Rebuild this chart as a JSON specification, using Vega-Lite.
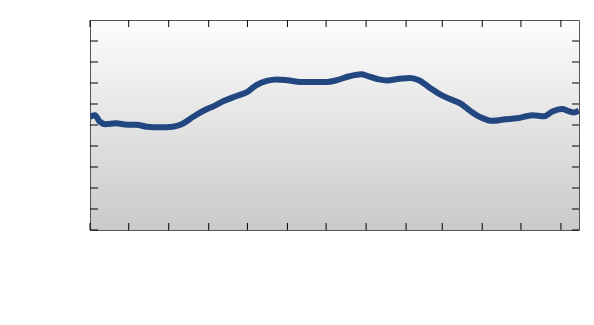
{
  "$schema": "https://vega.github.io/schema/vega-lite/v6.json",
  "width": 489,
  "height": 210,
  "autosize": "none",
  "padding": {"left": 90, "top": 20, "right": 15, "bottom": 95},
  "background": "white",
  "view": {
    "stroke": "#555555",
    "strokeWidth": 1,
    "fill": {"gradient": "linear", "x1": 0, "y1": 0, "x2": 0, "y2": 1,
      "stops": [{"offset": 0, "color": "#fdfdfd"}, {"offset": 1, "color": "#c9c9c9"}]}
  },
  "config": {
    "font": "DejaVu Sans",
    "axis": {"labelFont": "DejaVu Sans", "labelFontSize": 13, "labelColor": "#000000", "ticks": false, "domain": false,
      "gridColor": "#999999", "gridDash": [1, 3], "gridOpacity": 0.8, "labelOverlap": false}
  },
  "datasets": {
    "series": [
      {"date": "2024-06-01", "value": 53.9},
      {"date": "2024-06-05", "value": 54.7},
      {"date": "2024-06-08", "value": 52.0},
      {"date": "2024-06-13", "value": 50.4},
      {"date": "2024-06-21", "value": 50.8},
      {"date": "2024-06-30", "value": 50.1},
      {"date": "2024-07-07", "value": 50.1},
      {"date": "2024-07-15", "value": 49.2},
      {"date": "2024-07-25", "value": 48.9},
      {"date": "2024-08-04", "value": 49.2},
      {"date": "2024-08-11", "value": 50.4},
      {"date": "2024-08-20", "value": 53.9},
      {"date": "2024-08-28", "value": 56.8},
      {"date": "2024-09-05", "value": 59.0},
      {"date": "2024-09-13", "value": 61.5},
      {"date": "2024-09-23", "value": 63.9},
      {"date": "2024-10-01", "value": 65.8},
      {"date": "2024-10-08", "value": 69.0},
      {"date": "2024-10-16", "value": 71.0},
      {"date": "2024-10-24", "value": 71.7},
      {"date": "2024-11-01", "value": 71.3},
      {"date": "2024-11-11", "value": 70.5},
      {"date": "2024-12-02", "value": 70.5},
      {"date": "2024-12-09", "value": 71.3},
      {"date": "2024-12-19", "value": 73.2},
      {"date": "2024-12-28", "value": 74.2},
      {"date": "2025-01-03", "value": 73.2},
      {"date": "2025-01-11", "value": 71.7},
      {"date": "2025-01-17", "value": 71.2},
      {"date": "2025-01-27", "value": 72.0},
      {"date": "2025-02-04", "value": 72.4},
      {"date": "2025-02-11", "value": 71.3},
      {"date": "2025-02-19", "value": 67.9},
      {"date": "2025-02-27", "value": 64.7},
      {"date": "2025-03-06", "value": 62.6},
      {"date": "2025-03-15", "value": 60.3},
      {"date": "2025-03-23", "value": 56.6},
      {"date": "2025-03-31", "value": 53.6},
      {"date": "2025-04-09", "value": 52.0},
      {"date": "2025-04-19", "value": 52.7},
      {"date": "2025-04-28", "value": 53.2},
      {"date": "2025-05-10", "value": 54.7},
      {"date": "2025-05-19", "value": 54.2},
      {"date": "2025-05-25", "value": 56.3},
      {"date": "2025-06-02", "value": 57.6},
      {"date": "2025-06-07", "value": 56.6},
      {"date": "2025-06-11", "value": 56.0},
      {"date": "2025-06-15", "value": 56.8}
    ],
    "months": [
      {"month": "2024-06-01"}, {"month": "2024-07-01"}, {"month": "2024-08-01"}, {"month": "2024-09-01"},
      {"month": "2024-10-01"}, {"month": "2024-11-01"}, {"month": "2024-12-01"}, {"month": "2025-01-01"},
      {"month": "2025-02-01"}, {"month": "2025-03-01"}, {"month": "2025-04-01"}, {"month": "2025-05-01"},
      {"month": "2025-06-01"}
    ],
    "levels": [
      {"level": 0}, {"level": 10}, {"level": 20}, {"level": 30}, {"level": 40},
      {"level": 50}, {"level": 60}, {"level": 70}, {"level": 80}, {"level": 90}
    ]
  },
  "layer": [
    {
      "data": {"name": "series"},
      "mark": {"type": "line", "color": "#22467f", "strokeWidth": 6, "interpolate": "monotone", "clip": true},
      "encoding": {
        "x": {"field": "date", "type": "temporal", "title": null,
          "scale": {"type": "utc", "domain": ["2024-06-01", "2025-06-15"]},
          "axis": {"orient": "bottom", "format": "%b %Y", "labelAngle": -45, "labelAlign": "right", "labelBaseline": "top",
            "tickCount": {"interval": "month", "step": 1}, "labelPadding": 16, "labelOffset": -7, "grid": true, "labelFlush": false, "labelBound": false,
            "domain": true, "domainColor": "#000000", "domainWidth": 1.5}},
        "y": {"field": "value", "type": "quantitative", "title": null,
          "scale": {"domain": [0, 100], "nice": false},
          "axis": {"orient": "left", "values": [0, 10, 20, 30, 40, 50, 60, 70, 80, 90], "labelPadding": 10, "grid": true}}
      }
    },
    {
      "data": {"name": "months"},
      "mark": {"type": "rule", "color": "#000000", "strokeWidth": 1, "y2Offset": -7},
      "encoding": {
        "x": {"field": "month", "type": "temporal", "axis": null},
        "y": {"datum": 0, "type": "quantitative", "axis": null},
        "y2": {"datum": 0}
      }
    },
    {
      "data": {"name": "months"},
      "mark": {"type": "rule", "color": "#000000", "strokeWidth": 1, "y2Offset": 7},
      "encoding": {
        "x": {"field": "month", "type": "temporal", "axis": null},
        "y": {"datum": 100, "type": "quantitative", "axis": null},
        "y2": {"datum": 100}
      }
    },
    {
      "data": {"name": "levels"},
      "mark": {"type": "rule", "color": "#000000", "strokeWidth": 1, "x2Offset": 8},
      "encoding": {
        "y": {"field": "level", "type": "quantitative", "axis": null},
        "x": {"datum": {"year": 2024, "month": 6, "date": 1, "utc": true}, "type": "temporal", "axis": null},
        "x2": {"datum": {"year": 2024, "month": 6, "date": 1, "utc": true}}
      }
    },
    {
      "data": {"name": "levels"},
      "mark": {"type": "rule", "color": "#000000", "strokeWidth": 1, "x2Offset": -7},
      "encoding": {
        "y": {"field": "level", "type": "quantitative", "axis": null},
        "x": {"datum": {"year": 2025, "month": 6, "date": 15, "utc": true}, "type": "temporal", "axis": null},
        "x2": {"datum": {"year": 2025, "month": 6, "date": 15, "utc": true}}
      }
    }
  ]
}
